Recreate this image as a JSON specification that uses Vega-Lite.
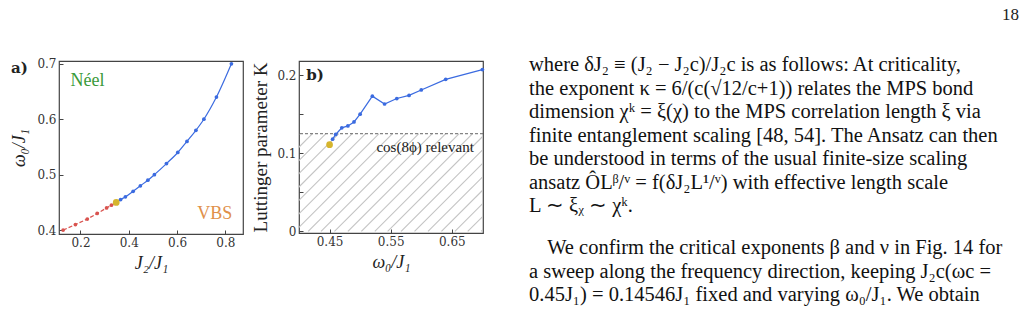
{
  "$schema": "https://vega.github.io/schema/vega-lite/v6.json",
  "padding": {"left": 10, "top": 5, "right": 5, "bottom": 0},
  "background": "white",
  "title": {"text": "18", "anchor": "end", "fontSize": 17, "font": "Liberation Serif", "fontWeight": "normal", "color": "#222", "offset": 31},
  "config": {
    "view": {"stroke": "#444", "strokeWidth": 1.2},
    "axis": {"domain": false, "grid": false, "tickSize": -4, "tickColor": "#444", "labelPadding": 7, "labelFont": "DejaVu Serif", "labelFontSize": 12, "labelColor": "#333", "titleFont": "Liberation Serif", "titleFontSize": 18, "titleFontWeight": "normal", "titleColor": "#222"}
  },
  "spacing": 43,
  "hconcat": [
    {
      "spacing": 7,
      "hconcat": [
        {
          "width": 184, "height": 173,
          "title": {"text": "a)", "anchor": "start", "frame": "bounds", "fontSize": 15, "fontWeight": "bold", "font": "DejaVu Serif", "color": "#222", "baseline": "top", "offset": 0, "dy": 18},
          "layer": [
            {
              "data": {"values": [
                {"j2": 0.128, "w": 0.400}, {"j2": 0.179, "w": 0.410}, {"j2": 0.228, "w": 0.420},
                {"j2": 0.269, "w": 0.430}, {"j2": 0.308, "w": 0.440}, {"j2": 0.328, "w": 0.445},
                {"j2": 0.348, "w": 0.450}
              ]},
              "mark": {"type": "line", "color": "#d9534f", "strokeDash": [4, 2], "strokeWidth": 1.2, "point": {"filled": true, "size": 14, "color": "#d9534f"}},
              "encoding": {
                "x": {"field": "j2", "type": "quantitative", "scale": {"domain": [0.111, 0.873], "nice": false, "zero": false}, "axis": {"values": [0.2, 0.4, 0.6, 0.8], "format": ".1f", "title": "J₂/J₁", "titleFontStyle": "italic", "titlePadding": 6}},
                "y": {"field": "w", "type": "quantitative", "scale": {"domain": [0.393, 0.705], "nice": false, "zero": false}, "axis": {"values": [0.4, 0.5, 0.6, 0.7], "format": ".1f", "title": "ω₀/J₁", "titleFontStyle": "italic", "titlePadding": 8}}
              }
            },
            {
              "data": {"values": [
                {"j2": 0.348, "w": 0.450}, {"j2": 0.366, "w": 0.455}, {"j2": 0.386, "w": 0.460}, {"j2": 0.418, "w": 0.470},
                {"j2": 0.448, "w": 0.480}, {"j2": 0.479, "w": 0.490}, {"j2": 0.506, "w": 0.500},
                {"j2": 0.556, "w": 0.520}, {"j2": 0.603, "w": 0.540}, {"j2": 0.641, "w": 0.560},
                {"j2": 0.678, "w": 0.580}, {"j2": 0.711, "w": 0.600}, {"j2": 0.763, "w": 0.640},
                {"j2": 0.825, "w": 0.700}
              ]},
              "mark": {"type": "line", "color": "#3b6be0", "strokeWidth": 1.2, "interpolate": "monotone", "point": {"filled": true, "size": 14, "color": "#3b6be0"}},
              "encoding": {
                "x": {"field": "j2", "type": "quantitative"},
                "y": {"field": "w", "type": "quantitative"}
              }
            },
            {
              "data": {"values": [{"j2": 0.348, "w": 0.450}]},
              "mark": {"type": "point", "filled": true, "size": 45, "color": "#d6b52e", "opacity": 1},
              "encoding": {
                "x": {"field": "j2", "type": "quantitative"},
                "y": {"field": "w", "type": "quantitative"}
              }
            },
            {
              "data": {"values": [{"j2": 0.159, "w": 0.669, "label": "Néel"}]},
              "mark": {"type": "text", "font": "Liberation Serif", "fontSize": 18, "baseline": "middle", "align": "left", "color": "#3a9a3a"},
              "encoding": {
                "x": {"field": "j2", "type": "quantitative"},
                "y": {"field": "w", "type": "quantitative"},
                "text": {"field": "label"}
              }
            },
            {
              "data": {"values": [{"j2": 0.829, "w": 0.429, "label": "VBS"}]},
              "mark": {"type": "text", "font": "Liberation Serif", "fontSize": 18, "baseline": "middle", "align": "right", "color": "#e0904a"},
              "encoding": {
                "x": {"field": "j2", "type": "quantitative"},
                "y": {"field": "w", "type": "quantitative"},
                "text": {"field": "label"}
              }
            }
          ]
        },
        {
          "width": 184, "height": 172,
          "layer": [
            {
              "data": {"values": [
                {"hx": 0.240, "hx2": 0.400}, {"hx": 0.262, "hx2": 0.422}, {"hx": 0.284, "hx2": 0.444},
                {"hx": 0.305, "hx2": 0.465}, {"hx": 0.327, "hx2": 0.487}, {"hx": 0.349, "hx2": 0.509},
                {"hx": 0.371, "hx2": 0.531}, {"hx": 0.393, "hx2": 0.553}, {"hx": 0.415, "hx2": 0.575},
                {"hx": 0.436, "hx2": 0.596}, {"hx": 0.458, "hx2": 0.618}, {"hx": 0.480, "hx2": 0.640},
                {"hx": 0.502, "hx2": 0.662}, {"hx": 0.524, "hx2": 0.684}, {"hx": 0.545, "hx2": 0.705},
                {"hx": 0.567, "hx2": 0.727}, {"hx": 0.589, "hx2": 0.749}, {"hx": 0.611, "hx2": 0.771},
                {"hx": 0.633, "hx2": 0.793}, {"hx": 0.655, "hx2": 0.815}, {"hx": 0.676, "hx2": 0.836},
                {"hx": 0.698, "hx2": 0.858}
              ]},
              "mark": {"type": "rule", "color": "#c4c4c4", "strokeWidth": 1.1, "clip": true},
              "encoding": {
                "x": {"field": "hx", "type": "quantitative", "scale": {"domain": [0.4, 0.701], "nice": false, "zero": false}, "axis": {"values": [0.45, 0.55, 0.65], "format": ".2f", "title": "ω₀/J₁", "titleFontStyle": "italic", "titlePadding": 6}},
                "x2": {"field": "hx2"},
                "y": {"datum": 0, "type": "quantitative", "scale": {"domain": [-0.002, 0.218], "nice": false, "zero": false}, "axis": {"values": [0, 0.05, 0.1, 0.15, 0.2], "format": "~g", "labelExpr": "round(datum.value * 100) % 10 == 0 ? datum.label : ''", "title": "Luttinger parameter K", "titlePadding": 6, "titleFontSize": 19}},
                "y2": {"datum": 0.125}
              }
            },
            {
              "data": {"values": [{"k": 0.125}]},
              "mark": {"type": "rule", "color": "#666", "strokeDash": [3, 2], "strokeWidth": 1},
              "encoding": {"y": {"field": "k", "type": "quantitative"}}
            },
            {
              "data": {"values": [
                {"w": 0.455, "k": 0.118}, {"w": 0.46, "k": 0.124}, {"w": 0.47, "k": 0.1325},
                {"w": 0.48, "k": 0.135}, {"w": 0.49, "k": 0.140}, {"w": 0.50, "k": 0.150},
                {"w": 0.52, "k": 0.173}, {"w": 0.54, "k": 0.163}, {"w": 0.56, "k": 0.170},
                {"w": 0.58, "k": 0.174}, {"w": 0.60, "k": 0.181}, {"w": 0.64, "k": 0.1945},
                {"w": 0.70, "k": 0.207}
              ]},
              "mark": {"type": "line", "color": "#3b6be0", "strokeWidth": 1.2, "point": {"filled": true, "size": 14, "color": "#3b6be0"}},
              "encoding": {
                "x": {"field": "w", "type": "quantitative"},
                "y": {"field": "k", "type": "quantitative"}
              }
            },
            {
              "data": {"values": [{"w": 0.45, "k": 0.111}]},
              "mark": {"type": "point", "filled": true, "size": 45, "color": "#d6b52e", "opacity": 1},
              "encoding": {
                "x": {"field": "w", "type": "quantitative"},
                "y": {"field": "k", "type": "quantitative"}
              }
            },
            {
              "data": {"values": [{"w": 0.686, "k": 0.108, "label": "cos(8ϕ) relevant"}]},
              "mark": {"type": "text", "baseline": "middle", "align": "right", "font": "Liberation Serif", "fontSize": 15, "color": "#222"},
              "encoding": {
                "x": {"field": "w", "type": "quantitative"},
                "y": {"field": "k", "type": "quantitative"},
                "text": {"field": "label"}
              }
            },
            {
              "data": {"values": [{"w": 0.412, "k": 0.2, "label": "b)"}]},
              "mark": {"type": "text", "baseline": "middle", "align": "left", "font": "DejaVu Serif", "fontSize": 15, "fontWeight": "bold", "color": "#222"},
              "encoding": {
                "x": {"field": "w", "type": "quantitative"},
                "y": {"field": "k", "type": "quantitative"},
                "text": {"field": "label"}
              }
            }
          ]
        }
      ]
    },
    {
      "width": 490, "height": 258,
      "view": {"stroke": null},
      "data": {"values": [
        {"line": 1, "col": 0, "txt": "where δJ₂ ≡ (J₂ − J₂c)/J₂c is as follows: At criticality,"},
        {"line": 2, "col": 0, "txt": "the exponent κ = 6/(c(√12/c+1)) relates the MPS bond"},
        {"line": 3, "col": 0, "txt": "dimension χᵏ = ξ(χ) to the MPS correlation length ξ via"},
        {"line": 4, "col": 0, "txt": "finite entanglement scaling [48, 54]. The Ansatz can then"},
        {"line": 5, "col": 0, "txt": "be understood in terms of the usual finite-size scaling"},
        {"line": 6, "col": 0, "txt": "ansatz ÔLᵝ/ᵛ = f(δJ₂L¹/ᵛ) with effective length scale"},
        {"line": 7, "col": 0, "txt": "L ∼ ξᵪ ∼ χᵏ."},
        {"line": 8.8, "col": 0.037, "txt": "We confirm the critical exponents β and ν in Fig. 14 for"},
        {"line": 9.8, "col": 0, "txt": "a sweep along the frequency direction, keeping J₂c(ωc ="},
        {"line": 10.8, "col": 0, "txt": "0.45J₁) = 0.14546J₁ fixed and varying ω₀/J₁. We obtain"},
        {"line": 11.8, "col": 0, "txt": "β = 0.078, β = 0.09 and ν = 0.625 in good agreement"}
      ]},
      "mark": {"type": "text", "align": "left", "baseline": "middle", "font": "Liberation Serif", "fontSize": 20.5, "color": "#111"},
      "encoding": {
        "x": {"field": "col", "type": "quantitative", "scale": {"domain": [0, 1], "nice": false, "zero": false}, "axis": null},
        "y": {"field": "line", "type": "quantitative", "scale": {"domain": [0.83, 11.8], "nice": false, "zero": false, "reverse": true}, "axis": null},
        "text": {"field": "txt"}
      }
    }
  ]
}
